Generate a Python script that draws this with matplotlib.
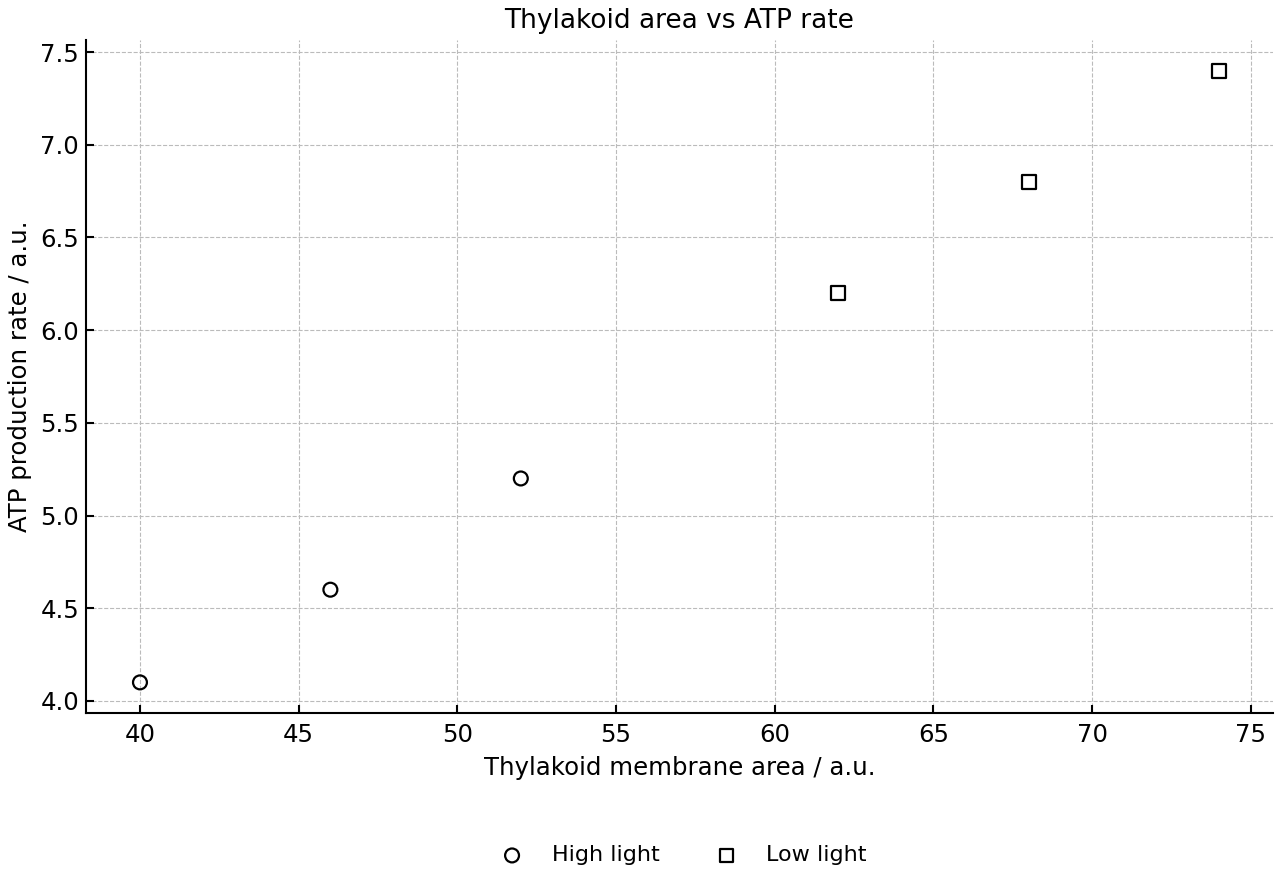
import matplotlib
matplotlib.use("Agg")
import matplotlib.pyplot as plt

high_area = [40, 46, 52]
high_atp = [4.1, 4.6, 5.2]
low_area = [62, 68, 74]
low_atp = [6.2, 6.8, 7.4]

plt.rcParams['font.size'] = 17.6

fig = plt.figure(figsize=(12.8, 8.8), dpi=100)
ax = fig.add_axes([0.0672, 0.1898, 0.9273, 0.7647])

ax.scatter(high_area, high_atp, marker='o', s=100, facecolors='none',
           edgecolors='black', linewidths=1.6, label='High light', zorder=3)
ax.scatter(low_area, low_atp, marker='s', s=100, facecolors='none',
           edgecolors='black', linewidths=1.6, label='Low light', zorder=3)

ax.set_title('Thylakoid area vs ATP rate', fontsize=19, pad=9)
ax.set_xlabel('Thylakoid membrane area / a.u.', labelpad=7)
ax.set_ylabel('ATP production rate / a.u.', labelpad=6)
ax.grid(True, linestyle='--', color='#bbbbbb', linewidth=0.8)
ax.set_axisbelow(True)
ax.tick_params(direction='in', length=6, width=1.5)
ax.tick_params(axis='x', pad=7)
ax.tick_params(axis='y', pad=5)
for side in ['top', 'right']:
    ax.spines[side].set_visible(False)
for side in ['left', 'bottom']:
    ax.spines[side].set_linewidth(1.5)

fig.legend(loc='lower center', ncol=2, frameon=False, bbox_to_anchor=(0.53, -0.006),
           columnspacing=2, fontsize=16)

fig.savefig('out.png')
